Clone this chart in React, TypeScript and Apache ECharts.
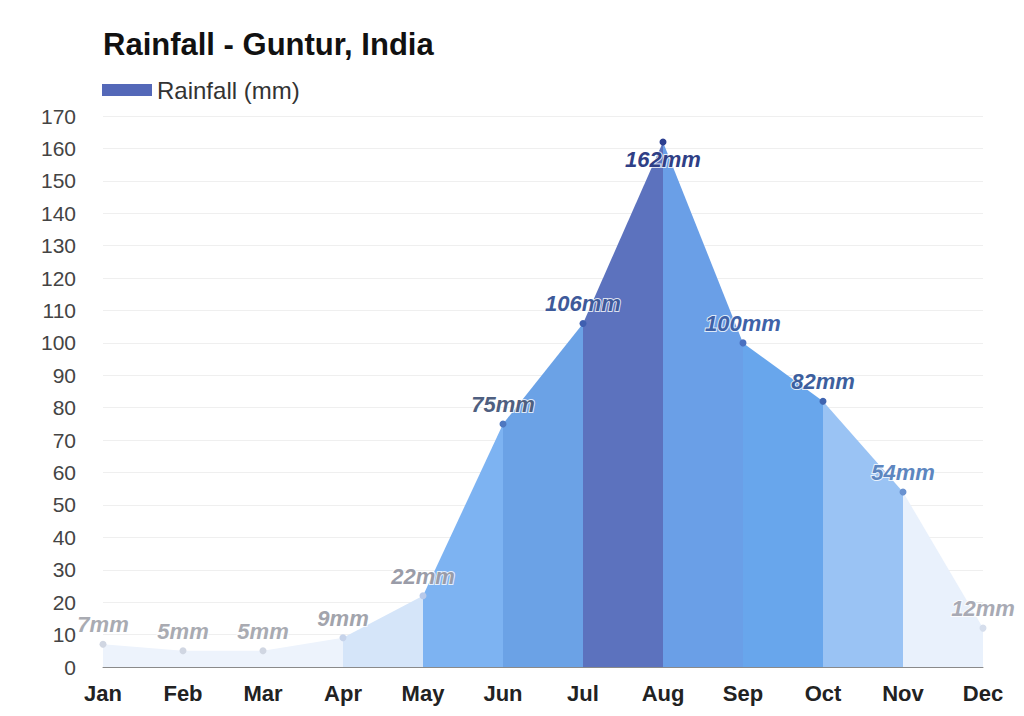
import React, { useEffect, useRef } from "react";
import * as echarts from "echarts";

const months = ["Jan", "Feb", "Mar", "Apr", "May", "Jun", "Jul", "Aug", "Sep", "Oct", "Nov", "Dec"];
const rainfall = [7, 5, 5, 9, 22, 75, 106, 162, 100, 82, 54, 12];
const yTicks = { min: 0, max: 170, interval: 10 };

// style arrays (kept separate from data)
const segmentColors = [
  "#edf3fc", "#edf3fc", "#edf3fc", "#d5e5f9", "#7db3f2", "#6ba2e6",
  "#5c72be", "#6a9fe7", "#68a6ec", "#9ac3f4", "#e9f1fc",
];
const labelColors = [
  "#a9abb2", "#a9abb2", "#a9abb2", "#a2a4ac", "#9a9ca8", "#4f5f80",
  "#3e5a9a", "#2f3f86", "#3f62a8", "#3d5f9e", "#5d86c0", "#a8aab4",
];
const pointColors = [
  "#d0d6e2", "#d0d6e2", "#d0d6e2", "#c6d3ea", "#b7c9ea", "#4f78c0",
  "#3f5fb0", "#2c3f90", "#4a70c0", "#3f64b0", "#6a92d0", "#d6deec",
];

export default function App() {
  const ref = useRef<HTMLDivElement>(null);
  useEffect(() => {
    if (!ref.current) return;
    const chart = echarts.init(ref.current, null, { renderer: "svg" });
    const segSeries = segmentColors.map((c, i) => ({
      type: "line",
      name: "seg" + i,
      data: rainfall.map((v, j) => (j === i || j === i + 1 ? v : null)),
      symbol: "none",
      lineStyle: { width: 0, opacity: 0 },
      areaStyle: { color: c, opacity: 1 },
      silent: true,
      z: 1,
    }));
    const peak = Math.max(...rainfall);
    const mainData = rainfall.map((v, i) => ({
      value: v,
      itemStyle: { color: pointColors[i] },
      label: {
        color: labelColors[i],
        position: v === peak ? "bottom" : "top",
        distance: v === peak ? 3 : 5,
      },
    }));
    chart.setOption({
      animation: false,
      backgroundColor: "#ffffff",
      title: {
        text: "Rainfall - Guntur, India",
        left: 98,
        top: 24,
        textStyle: { fontFamily: "Liberation Sans", fontSize: 31, fontWeight: "bold", color: "#111" },
      },
      legend: {
        data: ["Rainfall (mm)"],
        left: 97,
        top: 73,
        icon: "rect",
        itemWidth: 50,
        itemHeight: 12,
        itemGap: 11,
        itemStyle: { color: "#5468b8" },
        textStyle: { fontFamily: "Liberation Sans", fontSize: 24, color: "#333" },
      },
      grid: { left: 103, right: 41, top: 116, bottom: 49, containLabel: false },
      xAxis: {
        type: "category",
        data: months,
        boundaryGap: false,
        axisTick: { show: false },
        axisLine: { lineStyle: { color: "#8a8a8a", width: 1 } },
        axisLabel: { fontFamily: "Liberation Sans", fontSize: 22, fontWeight: "bold", color: "#222", margin: 15 },
        splitLine: { show: false },
      },
      yAxis: {
        type: "value",
        min: yTicks.min,
        max: yTicks.max,
        interval: yTicks.interval,
        axisLine: { show: false },
        axisTick: { show: false },
        axisLabel: { fontFamily: "Liberation Sans", fontSize: 21, color: "#444", margin: 27 },
        splitLine: { lineStyle: { color: "#efefef", width: 1 } },
      },
      series: [
        ...segSeries,
        {
          type: "line",
          name: "Rainfall (mm)",
          data: mainData,
          symbol: "circle",
          symbolSize: 7,
          showSymbol: true,
          lineStyle: { width: 0, opacity: 0 },
          z: 5,
          label: {
            show: true,
            formatter: "{c}mm",
            fontFamily: "Liberation Sans",
            fontSize: 22,
            fontStyle: "italic",
            fontWeight: "bold",
            textBorderColor: "rgba(255,255,255,0.8)",
            textBorderWidth: 2,
          },
        },
      ],
    });
    return () => chart.dispose();
  }, []);
  return <div ref={ref} style={{ position: "fixed", left: 0, top: 0, width: 1024, height: 716 }} />;
}
